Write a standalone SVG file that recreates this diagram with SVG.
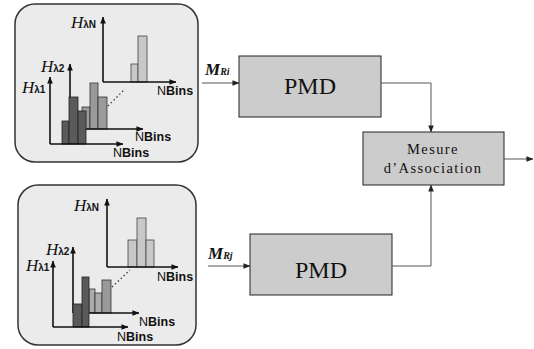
<svg xmlns="http://www.w3.org/2000/svg" width="534" height="349" viewBox="0 0 534 349">
  <defs>
    <marker id="ah" viewBox="0 0 8 8" refX="7.5" refY="4" markerWidth="7" markerHeight="7" markerUnits="userSpaceOnUse" orient="auto">
      <path d="M0,0.8 L8,4 L0,7.2 Z" fill="#222"/>
    </marker>
    <marker id="axh" viewBox="0 0 8 8" refX="7.5" refY="4" markerWidth="7" markerHeight="7" markerUnits="userSpaceOnUse" orient="auto">
      <path d="M0,0.8 L8,4 L0,7.2 Z" fill="#111"/>
    </marker>
  </defs>
  <style>
    .panel { fill: #ebebeb; stroke: #333; stroke-width: 1.5; }
    .axis { fill: none; stroke: #111; stroke-width: 1.6; marker-end: url(#axh); }
    .dark { fill: #5a5a5a; stroke: #222; stroke-width: 0.8; }
    .mid { fill: #9a9a9a; stroke: #333; stroke-width: 0.8; }
    .light { fill: #c8c8c8; stroke: #444; stroke-width: 0.8; }
    .dots { stroke: #333; stroke-width: 1.2; stroke-dasharray: 1.5 2.5; fill: none; }
    .hl { font-family: "Liberation Serif", serif; font-style: italic; font-size: 17px; fill: #111; }
    .hsub { font-family: "Liberation Sans", Arial, sans-serif; font-style: normal; font-weight: bold; font-size: 10px; }
    .nb { font-family: "Liberation Sans", Arial, sans-serif; font-size: 12.5px; fill: #111; }
    .nb tspan.b { font-weight: bold; }
    .box { fill: #cccccc; stroke: #222; stroke-width: 1; }
    .big { font-family: "Liberation Serif", serif; font-size: 24px; fill: #111; text-anchor: middle; }
    .small { font-family: "Liberation Serif", serif; font-size: 14.5px; fill: #111; text-anchor: middle; letter-spacing: 1.4px; }
    .ml { font-family: "Liberation Serif", serif; font-weight: bold; font-style: italic; font-size: 17px; fill: #111; }
    .ml tspan { font-size: 10px; }
    .wire { fill: none; stroke: #555; stroke-width: 1; marker-end: url(#ah); }
  </style>

  <!-- upper set of histograms -->
  <g id="histograms-i">
    <rect class="panel" x="15" y="4" width="183" height="158" rx="20"/>
    <!-- histogram N -->
    <rect class="light" x="131" y="64" width="7" height="18"/>
    <rect class="light" x="138" y="36" width="9" height="46"/>
    <path class="axis" d="M103,82 V17"/>
    <path class="axis" d="M103,82 H176"/>
    <text class="hl" x="71" y="28">H<tspan class="hsub">λN</tspan></text>
    <text class="nb" x="157" y="95">N<tspan class="b">Bins</tspan></text>
    <!-- histogram 2 -->
    <rect class="mid" x="82" y="107" width="8" height="22"/>
    <rect class="mid" x="90" y="83" width="8" height="46"/>
    <rect class="mid" x="98" y="97" width="9" height="32"/>
    <path class="axis" d="M70,129 V64"/>
    <path class="axis" d="M70,129 H143"/>
    <text class="hl" x="41" y="72">H<tspan class="hsub">λ2</tspan></text>
    <text class="nb" x="135" y="141">N<tspan class="b">Bins</tspan></text>
    <!-- histogram 1 -->
    <rect class="dark" x="62" y="121" width="7" height="23"/>
    <rect class="dark" x="69" y="97" width="9" height="47"/>
    <rect class="dark" x="78" y="111" width="8" height="33"/>
    <path class="axis" d="M50,144 V77"/>
    <path class="axis" d="M50,144 H123"/>
    <text class="hl" x="22" y="93">H<tspan class="hsub">λ1</tspan></text>
    <text class="nb" x="113" y="157">N<tspan class="b">Bins</tspan></text>
    <path class="dots" d="M108,106 L125,89"/>
  </g>

  <!-- lower set of histograms -->
  <g id="histograms-j">
    <rect class="panel" x="18" y="185" width="178" height="160" rx="20"/>
    <!-- histogram N -->
    <rect class="light" x="128" y="240" width="9" height="27"/>
    <rect class="light" x="137" y="218" width="9" height="49"/>
    <rect class="light" x="146" y="240" width="8" height="27"/>
    <path class="axis" d="M107,267 V199"/>
    <path class="axis" d="M107,267 H178"/>
    <text class="hl" x="74" y="211">H<tspan class="hsub">λN</tspan></text>
    <text class="nb" x="157" y="281">N<tspan class="b">Bins</tspan></text>
    <!-- histogram 2 -->
    <rect class="mid" x="89" y="289" width="6" height="24" style="fill:#ababab"/>
    <rect class="mid" x="95" y="293" width="7" height="20" style="fill:#ababab"/>
    <rect class="mid" x="102" y="280" width="9" height="33"/>
    <path class="axis" d="M73,313 V247"/>
    <path class="axis" d="M73,313 H139"/>
    <text class="hl" x="46" y="255">H<tspan class="hsub">λ2</tspan></text>
    <text class="nb" x="139" y="326">N<tspan class="b">Bins</tspan></text>
    <!-- histogram 1 -->
    <rect class="dark" x="73" y="304" width="9" height="23"/>
    <rect class="dark" x="82" y="277" width="7" height="50"/>
    <path class="axis" d="M53,327 V261"/>
    <path class="axis" d="M53,327 H128"/>
    <text class="hl" x="26" y="271">H<tspan class="hsub">λ1</tspan></text>
    <text class="nb" x="117" y="341">N<tspan class="b">Bins</tspan></text>
    <path class="dots" d="M112,287 L130,270"/>
  </g>

  <g id="pmd-i">
    <rect class="box" x="239" y="56" width="142" height="61"/>
    <text class="big" x="310" y="94">PMD</text>
  </g>

  <g id="pmd-j">
    <rect class="box" x="250" y="234" width="142" height="61"/>
    <text class="big" x="321" y="278">PMD</text>
  </g>

  <g id="mesure">
    <rect class="box" x="363" y="132" width="141" height="53"/>
    <text class="small" x="433" y="154">Mesure</text>
    <text class="small" x="433" y="173">d’Association</text>
  </g>

  <g id="connectors">
    <path class="wire" d="M202,83 H239"/>
    <text class="ml" x="205" y="75">M<tspan>Ri</tspan></text>
    <path class="wire" d="M208,266 H250"/>
    <text class="ml" x="208" y="259">M<tspan>Rj</tspan></text>
    <path class="wire" d="M381,83 H431 V132"/>
    <path class="wire" d="M392,266 H431 V185"/>
    <path class="wire" d="M504,159 H533"/>
  </g>
</svg>
